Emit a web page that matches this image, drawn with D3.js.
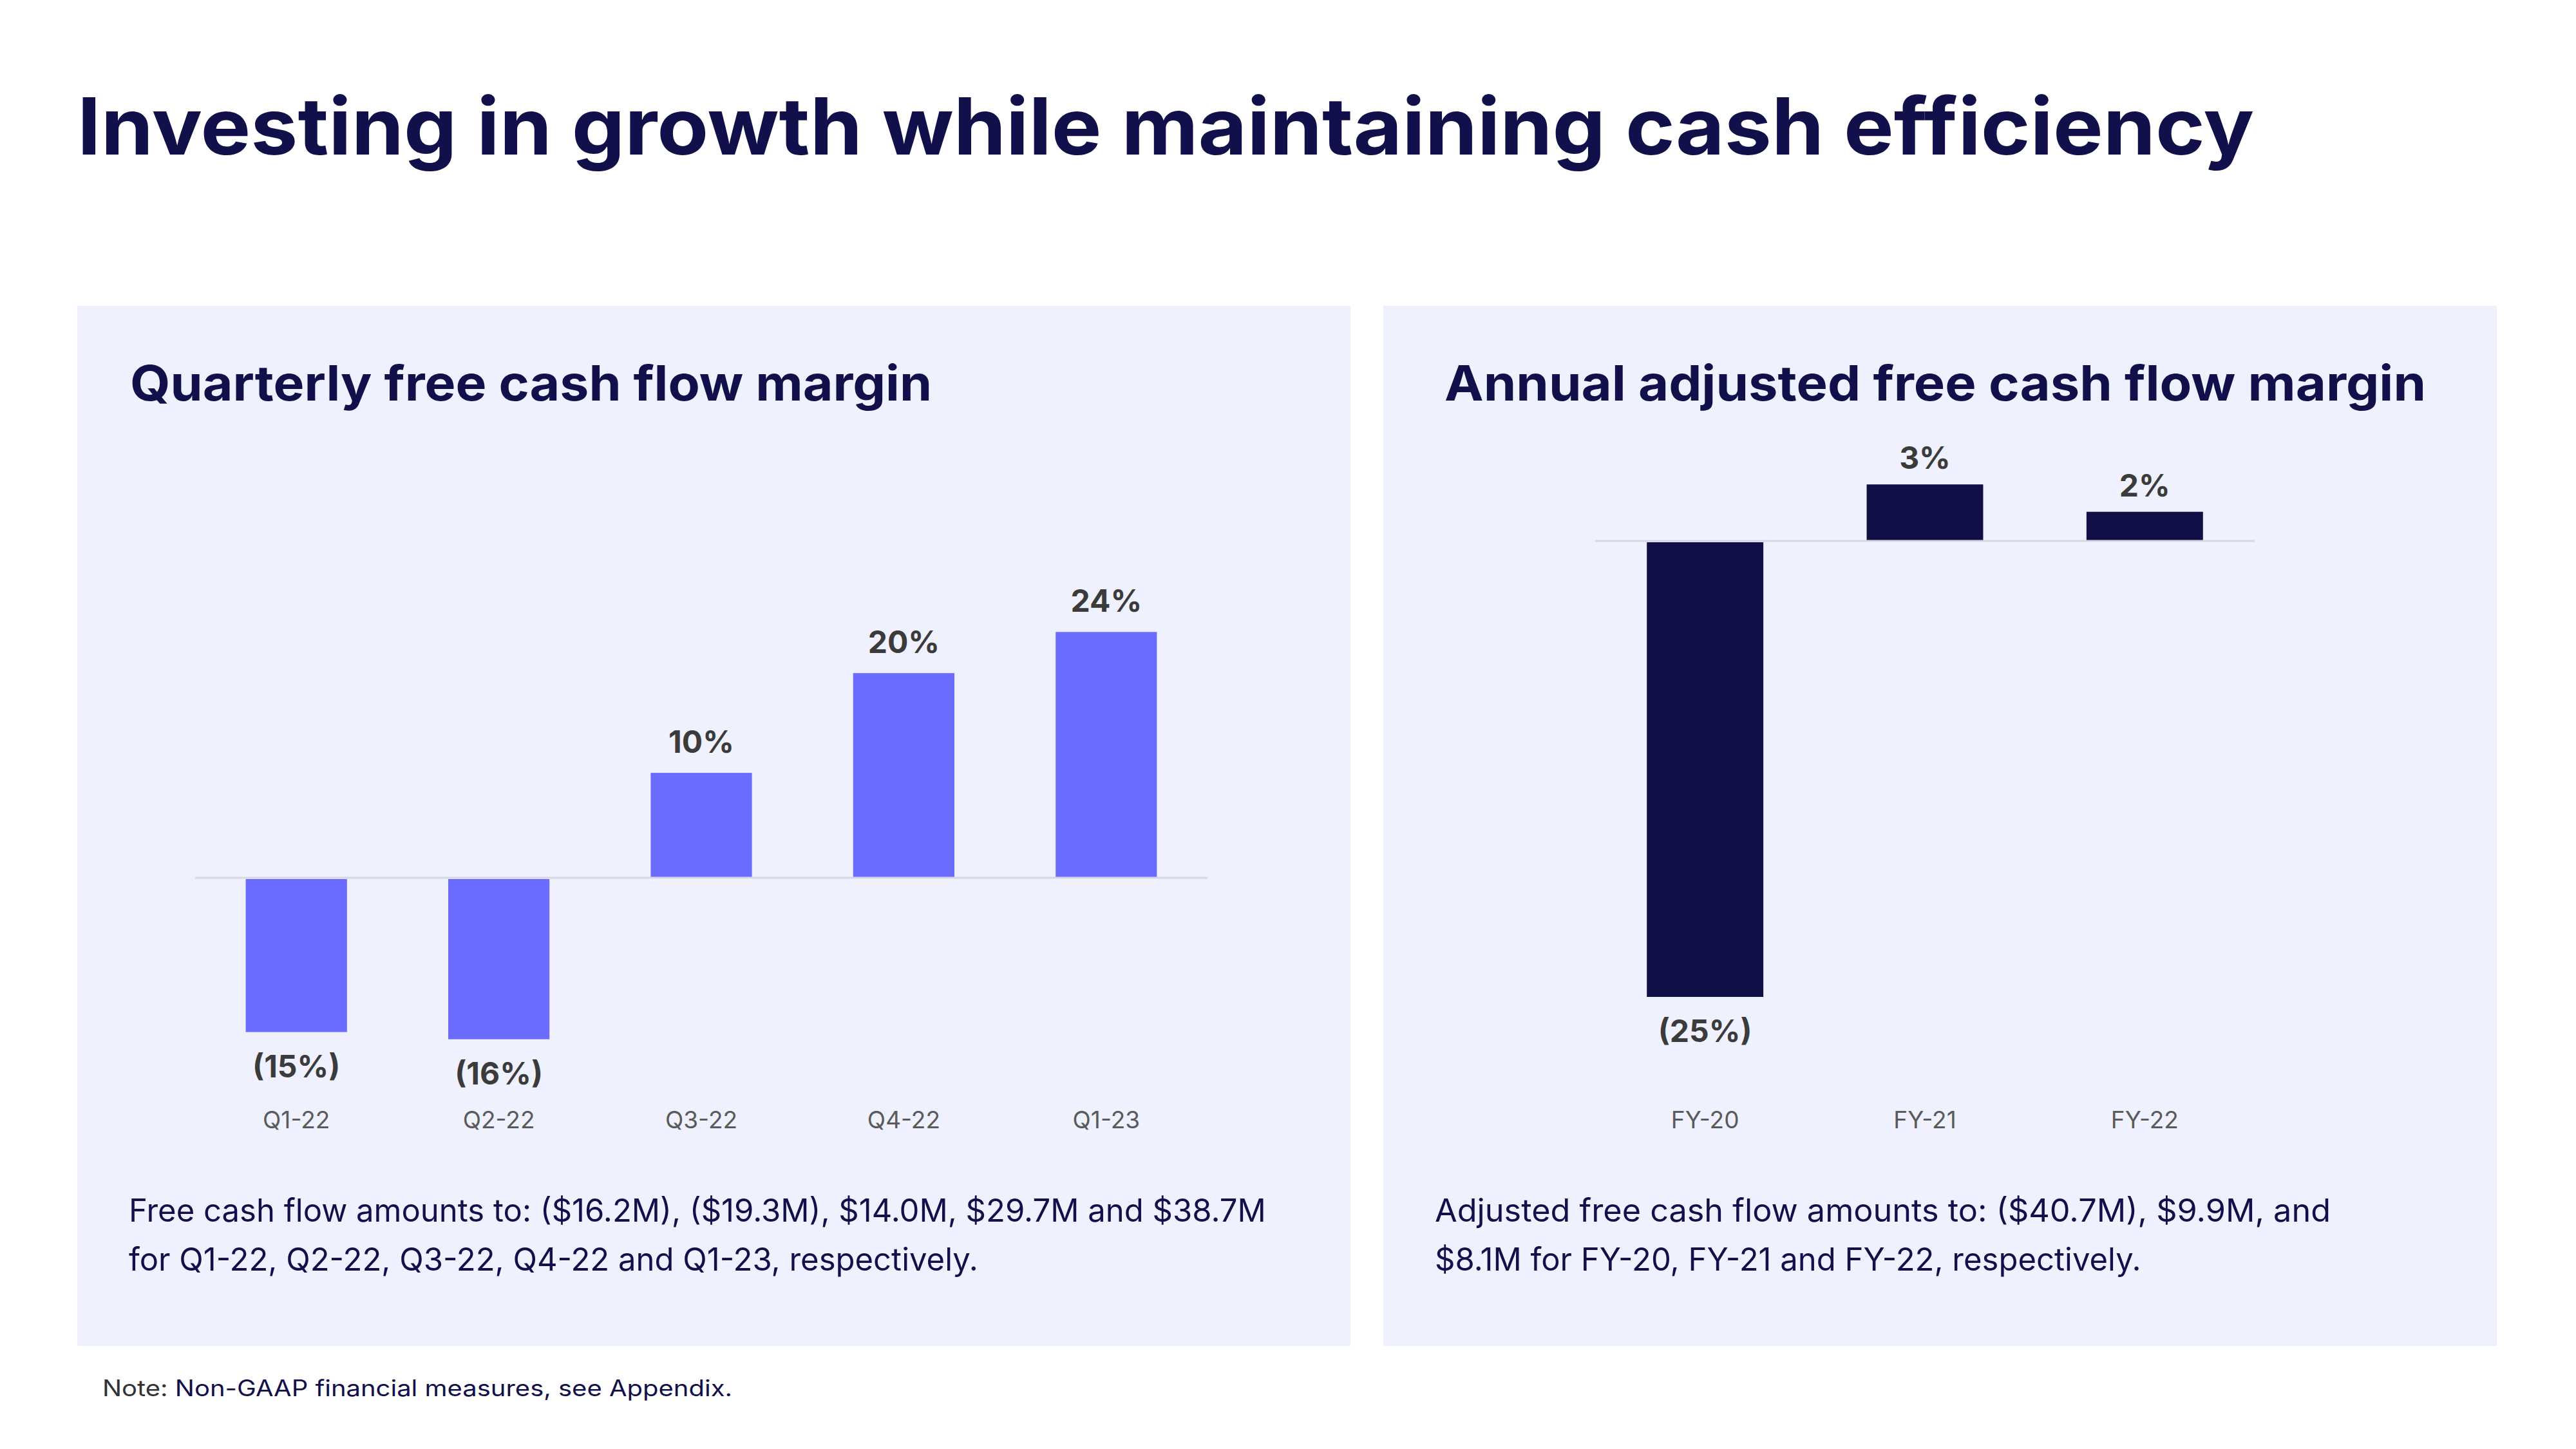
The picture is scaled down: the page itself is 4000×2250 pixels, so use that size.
<!DOCTYPE html>
<html>
<head>
<meta charset="utf-8">
<script src="https://cdn.jsdelivr.net/npm/d3@7"></script>
<style>
  html, body { margin: 0; padding: 0; background: #ffffff; }
  svg { display: block; }
  text { font-family: Inter, "Open Sans", "Noto Sans", sans-serif; }
</style>
</head>
<body>
<svg id="chart" width="4000" height="2250"></svg>
<script>
// ---------- DATA ----------
const quarterCategories = ["Q1-22", "Q2-22", "Q3-22", "Q4-22", "Q1-23"];
const quarterValues = [-15.0, -15.7, 10.2, 19.9, 23.9];
const quarterLabels = ["(15%)", "(16%)", "10%", "20%", "24%"];

const annualCategories = ["FY-20", "FY-21", "FY-22"];
const annualValues = [-25.0, 3.1, 1.6];
const annualLabels = ["(25%)", "3%", "2%"];

const mainTitle = "Investing in growth while maintaining cash efficiency";
const leftTitle = "Quarterly free cash flow margin";
const rightTitle = "Annual adjusted free cash flow margin";
const leftNote = ["Free cash flow amounts to: ($16.2M), ($19.3M), $14.0M, $29.7M and $38.7M",
                  "for Q1-22, Q2-22, Q3-22, Q4-22 and Q1-23, respectively."];
const rightNote = ["Adjusted free cash flow amounts to: ($40.7M), $9.9M, and",
                   "$8.1M for FY-20, FY-21 and FY-22, respectively."];
const footNoteLead = "Note:";
const footNoteRest = " Non-GAAP financial measures, see Appendix.";

// ---------- STYLE ----------
const NAVY = "#11104a";
const PANEL = "#eff1fe";
const LABEL = "#3b3b3b";
const AXISTXT = "#5a5a5a";

const svg = d3.select("#chart");

// fit helper: shrink/stretch text spacing to match a target width
function fit(sel, target) {
  sel.each(function() {
    const w = this.getComputedTextLength();
    if (Math.abs(w - target) / target > 0.01) {
      d3.select(this).attr("textLength", target).attr("lengthAdjust", "spacingAndGlyphs");
    }
  });
}

// Main title
svg.append("text")
  .attr("x", 120).attr("y", 240)
  .attr("font-size", 122).attr("font-weight", 700)
  .attr("fill", NAVY)
  .text(mainTitle)
  .call(fit, 3380);

// Panels
const panels = [
  {x: 120, w: 1977, title: leftTitle, titleW: 1245, titleX: 202, note: leftNote, noteW: [1755, 1330], noteX: 200},
  {x: 2148, w: 1729, title: rightTitle, titleW: 1524, titleX: 2243, note: rightNote, noteW: [1391, 1090], noteX: 2228}
];
panels.forEach(p => {
  svg.append("rect").attr("x", p.x).attr("y", 475).attr("width", p.w).attr("height", 1615).attr("fill", PANEL);
  svg.append("text").attr("x", p.titleX).attr("y", 622)
    .attr("font-size", 76).attr("font-weight", 700).attr("fill", NAVY)
    .text(p.title).call(fit, p.titleW);
  p.note.forEach((line, i) => {
    svg.append("text").attr("x", p.noteX).attr("y", 1897 + i * 76)
      .attr("font-size", 49).attr("font-weight", 400).attr("fill", NAVY)
      .text(line).call(fit, p.noteW[i]);
  });
});

// ---------- LEFT CHART ----------
const xq = d3.scaleBand().domain(quarterCategories).range([303, 1875]).paddingInner(0.5).paddingOuter(0.25);
const yq = d3.scaleLinear().domain([-20, 25]).range([1363 + 20 * 15.97, 1363 - 25 * 15.97]);

function drawChart(g, x, y, cats, vals, labels, color, zeroW) {
  g.append("g").selectAll("rect").data(vals).join("rect")
    .attr("x", (d, i) => x(cats[i]))
    .attr("width", x.bandwidth())
    .attr("y", d => d >= 0 ? y(d) : y(0) + 2)
    .attr("height", d => Math.abs(y(d) - y(0)) - (d >= 0 ? 1 : 2))
    .attr("fill", color);
  // zero line
  g.append("line")
    .attr("x1", x.range()[0]).attr("x2", x.range()[1])
    .attr("y1", y(0)).attr("y2", y(0))
    .attr("stroke", "#d6d9e2").attr("stroke-width", 3);
  // value labels
  g.append("g").selectAll("text").data(vals).join("text")
    .attr("x", (d, i) => x(cats[i]) + x.bandwidth() / 2)
    .attr("y", d => d >= 0 ? y(d) - zeroW : y(d) + 70)
    .attr("text-anchor", "middle")
    .attr("font-size", 48).attr("font-weight", 700).attr("fill", LABEL)
    .text((d, i) => labels[i]);
  // category axis
  const ax = g.append("g").attr("transform", "translate(0,1752)")
    .call(d3.axisBottom(x).tickSize(0).tickPadding(0));
  ax.select(".domain").remove();
  ax.selectAll("text")
    .attr("dy", 0)
    .attr("font-size", 37).attr("font-weight", 400).attr("fill", AXISTXT)
    .style("font-family", 'Inter, "Open Sans", sans-serif');
}

drawChart(svg.append("g"), xq, yq, quarterCategories, quarterValues, quarterLabels, "#6b6bff", 31);

// ---------- RIGHT CHART ----------
const xa = d3.scaleBand().domain(annualCategories).range([2477, 3501]).paddingInner(0.47).paddingOuter(0.235);
const ya = d3.scaleLinear().domain([-30, 5]).range([840 + 30 * 28.32, 840 - 5 * 28.32]);
drawChart(svg.append("g"), xa, ya, annualCategories, annualValues, annualLabels, "#100f46", 24);

// ---------- FOOTNOTE ----------
const fn = svg.append("text").attr("x", 159).attr("y", 2168).attr("font-size", 35);
fn.append("tspan").attr("fill", "#333333").text(footNoteLead);
fn.append("tspan").attr("fill", NAVY).text(footNoteRest);
fn.call(fit, 978);
</script>
</body>
</html>
